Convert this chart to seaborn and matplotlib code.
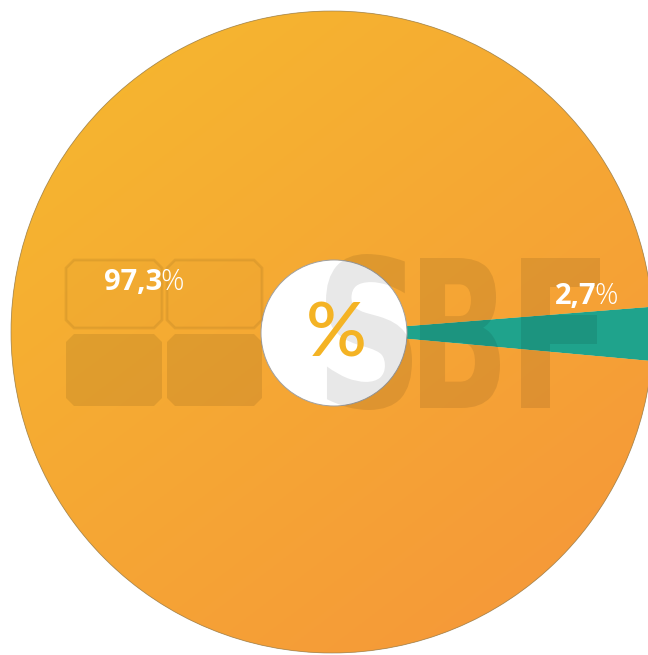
import numpy as np
import matplotlib
matplotlib.use("Agg")
import matplotlib.pyplot as plt
import seaborn as sns
from matplotlib.patches import Circle, Polygon, PathPatch
from matplotlib.textpath import TextPath
from matplotlib.font_manager import FontProperties
from matplotlib.transforms import Affine2D

# Share of the two groups (percent)
categories = ["Outros", "Destaque"]
shares = [97.3, 2.7]
share_labels = [f"{v:.1f}".replace(".", ",") for v in shares]

sns.set_theme(style="white")
plt.rcParams["font.family"] = ["Open Sans", "DejaVu Sans"]

W, H = 648, 655
fig = plt.figure(figsize=(W / 100, H / 100), dpi=100)
ax = fig.add_axes([0, 0, 1, 1])

def Y(y):
    """Convert a top-down pixel row into axis units."""
    return H - y

cx, cy, R = 332, Y(332), 321
hole_r = 73

teal = "#1fa38c"
orange_top = np.array([0xF6, 0xBA, 0x2E]) / 255
orange_bot = np.array([0xF5, 0x95, 0x3A]) / 255

wedges, _ = ax.pie(shares, colors=["#f5aa33", teal], radius=R, center=(cx, cy),
                   startangle=4.52, counterclock=True,
                   wedgeprops=dict(linewidth=0))

# Diagonal warm gradient filling the large slice
n = 256
ii, jj = np.mgrid[0:n, 0:n] / (n - 1)
t = (ii * 0.8 + jj * 0.6) / 1.4
grad = orange_top[None, None, :] * (1 - t[..., None]) + orange_bot[None, None, :] * t[..., None]
im = ax.imshow(grad, extent=(0, W, 0, H), origin="upper", zorder=1.5, aspect="auto")
im.set_clip_path(wedges[0])

# Thin outer rim
ax.add_patch(Circle((cx, cy), R, fill=False, edgecolor="#8c7a55", linewidth=0.6,
                    alpha=0.7, zorder=2))

# Central hole
ax.add_patch(Circle((334, Y(333)), hole_r, facecolor="white", edgecolor="#a0a0a0",
                    linewidth=0.7, zorder=3))

# Watermark: four chamfered tiles
def tile(x0, y0, x1, y1, c=8):
    pts = [(x0 + c, y0), (x1 - c, y0), (x1, y0 + c), (x1, y1 - c),
           (x1 - c, y1), (x0 + c, y1), (x0, y1 - c), (x0, y0 + c)]
    return [(px, Y(py)) for px, py in pts]

for (x0, x1) in [(66, 162), (167, 262)]:
    ax.add_patch(Polygon(tile(x0, 260, x1, 328), closed=True, facecolor=(0, 0, 0, 0.015),
                         edgecolor=(0, 0, 0, 0.07), linewidth=2, zorder=5))
    ax.add_patch(Polygon(tile(x0, 334, x1, 406), closed=True, facecolor=(0, 0, 0, 0.085),
                         edgecolor="none", zorder=5))

# Watermark letters, each fitted into its own box
wm_font = FontProperties(family="DejaVu Sans", weight="bold")
for letter, (x0, y0, x1, y1) in [("S", (326, 254, 412, 410)),
                                 ("B", (420, 258, 500, 408)),
                                 ("F", (521, 258, 600, 408))]:
    tp = TextPath((0, 0), letter, size=100, prop=wm_font)
    ext = tp.get_extents()
    sx = (x1 - x0) / ext.width
    sy = (y1 - y0) / ext.height
    tr = Affine2D().translate(-ext.x0, -ext.y0).scale(sx, sy).translate(x0, Y(y1))
    ax.add_patch(PathPatch(tr.transform_path(tp), facecolor=(0, 0, 0, 0.09),
                           edgecolor="none", zorder=5))

# Percent sign in the hole
ax.text(336, Y(335), "%", fontsize=54, color="#f4b324", ha="center", va="center",
        zorder=6, family=["Lato", "DejaVu Sans"], fontweight="semibold")

# Value labels: bold number followed by a light percent sign
label_pos = [(162, Y(282), 21), (596, Y(296), 21)]
for lab, (x, y, fs) in zip(share_labels, label_pos):
    ax.text(x, y, lab, fontsize=fs, color="white", fontweight="bold", ha="right",
            va="center", zorder=7)
    ax.text(x - 2, y, "%", fontsize=fs, color="white", fontweight="light", ha="left",
            va="center", zorder=7)

ax.set_xlim(0, W)
ax.set_ylim(0, H)
ax.axis("off")
fig.savefig("out.png", dpi=100, facecolor="white")
